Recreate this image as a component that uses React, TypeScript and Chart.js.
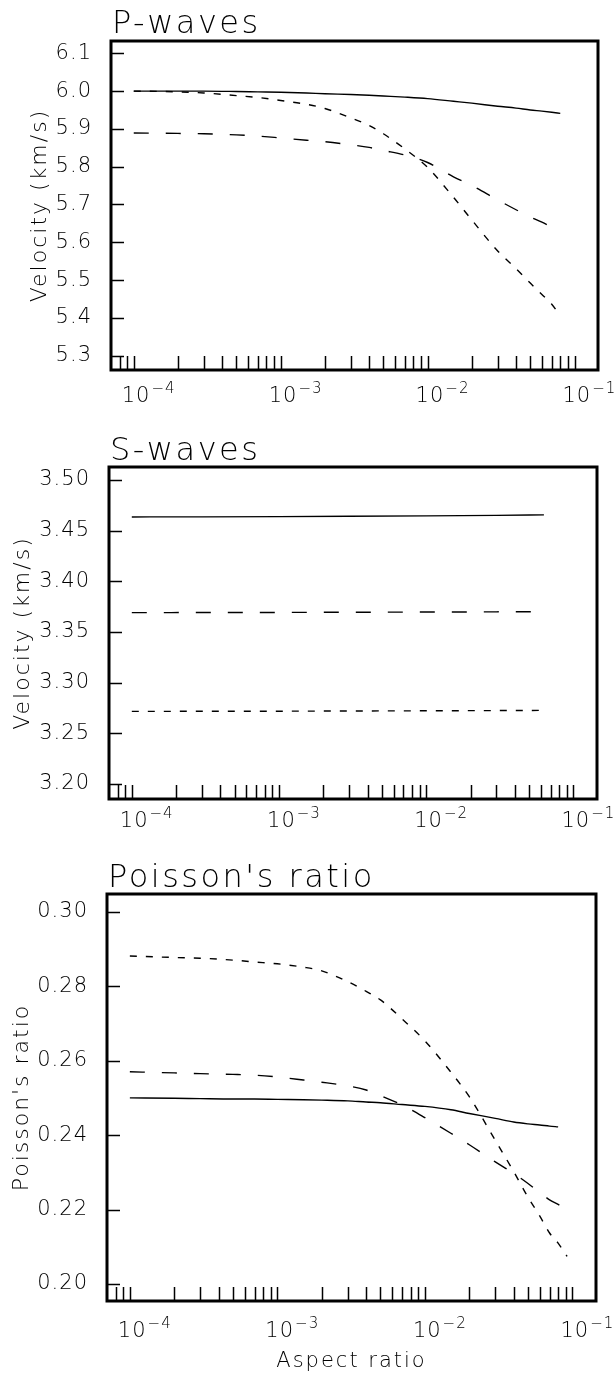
import React, { useEffect, useRef } from "react";
import { Chart, registerables } from "chart.js";

Chart.register(...registerables);

const FONT = "'DejaVu Sans', 'Liberation Sans', sans-serif";
const W_LIGHT = "200";

// ---------------- data ----------------
// P-waves
const P_ASPECT = [0.0001, 0.0002, 0.0003, 0.0005, 0.0007, 0.001, 0.0015, 0.002, 0.003, 0.004, 0.005, 0.007, 0.01, 0.015, 0.02, 0.03, 0.04, 0.05, 0.06, 0.07, 0.08];
const P_SOLID = [6.0, 6.0, 6.0, 5.999, 5.998, 5.997, 5.995, 5.993, 5.991, 5.989, 5.987, 5.984, 5.98, 5.973, 5.968, 5.96, 5.955, 5.95, 5.947, 5.944, 5.941];
const P_LONG = [5.889, 5.888, 5.887, 5.884, 5.881, 5.876, 5.87, 5.866, 5.858, 5.851, 5.843, 5.831, 5.811, 5.773, 5.75, 5.712, 5.686, 5.667, 5.653, 5.64, null];
const P_SHORT = [6.0, 5.998, 5.995, 5.988, 5.983, 5.975, 5.965, 5.954, 5.929, 5.909, 5.887, 5.847, 5.798, 5.719, 5.659, 5.577, 5.53, 5.492, 5.462, 5.436, 5.405];

// S-waves
const S_ASPECT = [0.0001, 0.0003, 0.001, 0.003, 0.01, 0.03, 0.063];
const S_SOLID = [3.4635, 3.4636, 3.4638, 3.4641, 3.4645, 3.465, 3.4655];
const S_LONG = [3.369, 3.3691, 3.3692, 3.3694, 3.3696, 3.3698, 3.37];
const S_SHORT = [3.2715, 3.2716, 3.2717, 3.2719, 3.2721, 3.2723, 3.2725];

// Poisson's ratio
const NU_ASPECT = [0.0001, 0.0002, 0.0003, 0.0005, 0.0007, 0.001, 0.0015, 0.002, 0.003, 0.004, 0.005, 0.007, 0.01, 0.015, 0.02, 0.03, 0.04, 0.05, 0.06, 0.07, 0.08, 0.092];
const NU_SOLID = [0.25, 0.2499, 0.2498, 0.2497, 0.2497, 0.2496, 0.2495, 0.2494, 0.2492, 0.2489, 0.2487, 0.2482, 0.2477, 0.2468, 0.2458, 0.2445, 0.2435, 0.243, 0.2427, 0.2424, 0.2422, null];
const NU_LONG = [0.257, 0.2567, 0.2565, 0.2563, 0.2561, 0.2556, 0.2548, 0.2542, 0.2532, 0.2521, 0.2506, 0.2481, 0.2447, 0.2405, 0.2374, 0.2328, 0.2297, 0.227, 0.2246, 0.2226, 0.2214, 0.22];
const NU_SHORT = [0.2881, 0.2877, 0.2875, 0.287, 0.2865, 0.286, 0.2851, 0.2841, 0.2812, 0.2786, 0.2763, 0.2712, 0.2653, 0.2569, 0.2503, 0.2386, 0.2302, 0.2233, 0.2183, 0.2137, 0.211, 0.2074];

// axis ticks / labels
const P_YTICKS = [5.3, 5.4, 5.5, 5.6, 5.7, 5.8, 5.9, 6.0, 6.1];
const P_YLABELS = ["5.3", "5.4", "5.5", "5.6", "5.7", "5.8", "5.9", "6.0", "6.1"];
const S_YTICKS = [3.2, 3.25, 3.3, 3.35, 3.4, 3.45, 3.5];
const S_YLABELS = ["3.20", "3.25", "3.30", "3.35", "3.40", "3.45", "3.50"];
const NU_YTICKS = [0.2, 0.22, 0.24, 0.26, 0.28, 0.3];
const NU_YLABELS = ["0.20", "0.22", "0.24", "0.26", "0.28", "0.30"];

const X_TICKS = [
  0.00008, 0.00009,
  0.0001, 0.0002, 0.0003, 0.0004, 0.0005, 0.0006, 0.0007, 0.0008, 0.0009,
  0.001, 0.002, 0.003, 0.004, 0.005, 0.006, 0.007, 0.008, 0.009,
  0.01, 0.02, 0.03, 0.04, 0.05, 0.06, 0.07, 0.08, 0.09,
  0.1,
];
const X_DECADES = [0.0001, 0.001, 0.01, 0.1];
const X_DECADE_BASE = "10";
const X_DECADE_EXPONENTS = ["\u22124", "\u22123", "\u22122", "\u22121"];
const X_MIN = 0.0000721;
const X_MAX = 0.1445;

const DASHES = [[], [15, 17], [7, 9]];

type PanelCfg = {
  id: string;
  title: string;
  yTitle: string;
  xTitle?: string;
  canvasTop: number;
  canvasH: number;
  area: [number, number, number, number];
  yMin: number;
  yMax: number;
  yTicks: number[];
  yLabels: string[];
  x: number[];
  series: (number | null)[][];
  titleY: number;
  yTitleX: number;
  xLabelY: number;
  xTitleY?: number;
};

const PANELS: PanelCfg[] = [
  {
    id: "p", title: "P-waves", yTitle: "Velocity (km/s)",
    canvasTop: 0, canvasH: 430, area: [111, 41, 598, 370],
    yMin: 5.262, yMax: 6.1325, yTicks: P_YTICKS, yLabels: P_YLABELS,
    x: P_ASPECT, series: [P_SOLID, P_LONG, P_SHORT],
    titleY: 33, yTitleX: 40, xLabelY: 402,
  },
  {
    id: "s", title: "S-waves", yTitle: "Velocity (km/s)",
    canvasTop: 430, canvasH: 420, area: [109, 467, 597, 799],
    yMin: 3.185, yMax: 3.5128, yTicks: S_YTICKS, yLabels: S_YLABELS,
    x: S_ASPECT, series: [S_SOLID, S_LONG, S_SHORT],
    titleY: 460, yTitleX: 23, xLabelY: 827,
  },
  {
    id: "nu", title: "Poisson's ratio", yTitle: "Poisson's ratio", xTitle: "Aspect ratio",
    canvasTop: 850, canvasH: 524, area: [107, 894, 596, 1301],
    yMin: 0.19544, yMax: 0.30475, yTicks: NU_YTICKS, yLabels: NU_YLABELS,
    x: NU_ASPECT, series: [NU_SOLID, NU_LONG, NU_SHORT],
    titleY: 887, yTitleX: 22, xLabelY: 1337, xTitleY: 1367,
  },
];

const PAGE_W = 614;
const Y_AXIS_W = 100;
const X_AXIS_H = 10;

function Panel({ cfg }: { cfg: PanelCfg }) {
  const ref = useRef<HTMLCanvasElement>(null);

  useEffect(() => {
    const canvas = ref.current;
    if (!canvas) return;
    const [L, T, R, B] = cfg.area;
    const top = cfg.canvasTop;
    const H = cfg.canvasH;

    const decor = {
      id: "decor_" + cfg.id,
      beforeDraw(chart: any) {
        (chart.ctx as any).letterSpacing = "1px";
      },
      afterDraw(chart: any) {
        const ctx = chart.ctx as any;
        const xs = chart.scales.x;
        const ys = chart.scales.y;
        const a = chart.chartArea;
        ctx.save();
        ctx.strokeStyle = "#000";
        ctx.fillStyle = "#000";
        ctx.setLineDash([]);
        // inward tick marks
        ctx.lineWidth = 1.5;
        ctx.beginPath();
        for (const v of cfg.yTicks) {
          const py = Math.round(ys.getPixelForValue(v)) + 0.5;
          ctx.moveTo(a.left, py);
          ctx.lineTo(a.left + 13, py);
        }
        for (const v of X_TICKS) {
          const px = Math.round(xs.getPixelForValue(v)) + 0.5;
          if (px < a.left || px > a.right) continue;
          ctx.moveTo(px, a.bottom);
          ctx.lineTo(px, a.bottom - 14);
        }
        ctx.stroke();
        // frame
        ctx.lineWidth = 3;
        ctx.strokeRect(a.left, a.top, a.right - a.left, a.bottom - a.top);

        // x decade labels
        ctx.textAlign = "left";
        ctx.textBaseline = "alphabetic";
        ctx.letterSpacing = "1px";
        X_DECADES.forEach((v, i) => {
          const px = xs.getPixelForValue(v);
          const bx = px - 12;
          const by = cfg.xLabelY - top;
          ctx.font = `${W_LIGHT} 21px ${FONT}`;
          ctx.fillText(X_DECADE_BASE, bx, by);
          const w = ctx.measureText(X_DECADE_BASE).width;
          ctx.font = `${W_LIGHT} 15px ${FONT}`;
          ctx.fillText(X_DECADE_EXPONENTS[i], bx + w + 1, by - 9);
        });

        // panel title
        ctx.font = `${W_LIGHT} 32px ${FONT}`;
        ctx.letterSpacing = "2.5px";
        ctx.fillText(cfg.title, a.left + 1, cfg.titleY - top);

        // y title
        ctx.save();
        ctx.translate(cfg.yTitleX, (a.top + a.bottom) / 2);
        ctx.rotate(-Math.PI / 2);
        ctx.textAlign = "center";
        ctx.textBaseline = "middle";
        ctx.font = `${W_LIGHT} 22px ${FONT}`;
        ctx.letterSpacing = "2px";
        ctx.fillText(cfg.yTitle, 0, 0);
        ctx.restore();

        // x title
        if (cfg.xTitle && cfg.xTitleY) {
          ctx.textAlign = "center";
          ctx.font = `${W_LIGHT} 21px ${FONT}`;
          ctx.letterSpacing = "2px";
          ctx.fillText(cfg.xTitle, (a.left + a.right) / 2, cfg.xTitleY - top);
        }
        ctx.restore();
      },
    };

    const datasets = cfg.series.map((vals, i) => ({
      data: cfg.x
        .map((x, j) => ({ x, y: vals[j] }))
        .filter((p) => p.y !== null && p.y !== undefined),
      borderColor: "#000",
      borderWidth: 1.4,
      borderDash: DASHES[i],
      pointRadius: 0,
      fill: false,
      cubicInterpolationMode: "monotone" as const,
    }));

    const chart = new Chart(canvas, {
      type: "line",
      data: { datasets },
      options: {
        responsive: false,
        animation: false,
        events: [],
        layout: {
          padding: {
            left: L - Y_AXIS_W,
            top: T - top,
            right: PAGE_W - R,
            bottom: H - (B - top) - X_AXIS_H,
          },
        },
        plugins: {
          legend: { display: false },
          title: { display: false },
          tooltip: { enabled: false },
        },
        scales: {
          x: {
            type: "logarithmic",
            min: X_MIN,
            max: X_MAX,
            grid: { display: false },
            border: { display: false },
            ticks: { display: false },
            afterBuildTicks: (s: any) => {
              s.ticks = X_TICKS.map((v) => ({ value: v }));
            },
            afterFit: (s: any) => {
              s.height = X_AXIS_H;
            },
          },
          y: {
            type: "linear",
            min: cfg.yMin,
            max: cfg.yMax,
            grid: { display: false },
            border: { display: false },
            ticks: {
              color: "#000",
              padding: 11,
              font: { family: FONT, size: 21, weight: W_LIGHT as any },
              callback: (_v: any, i: number) => cfg.yLabels[i],
            },
            afterBuildTicks: (s: any) => {
              s.ticks = cfg.yTicks.map((v) => ({ value: v }));
            },
            afterFit: (s: any) => {
              s.width = Y_AXIS_W;
            },
          },
        },
      } as any,
      plugins: [decor],
    });
    return () => chart.destroy();
  }, [cfg]);

  return (
    <canvas
      ref={ref}
      width={PAGE_W}
      height={cfg.canvasH}
      style={{ position: "absolute", left: 0, top: cfg.canvasTop, width: PAGE_W, height: cfg.canvasH, display: "block" }}
    />
  );
}

export default function App() {
  return (
    <div style={{ position: "absolute", left: 0, top: 0, width: PAGE_W, height: 1374, background: "#fff", overflow: "hidden" }}>
      {PANELS.map((p) => (
        <Panel key={p.id} cfg={p} />
      ))}
    </div>
  );
}
